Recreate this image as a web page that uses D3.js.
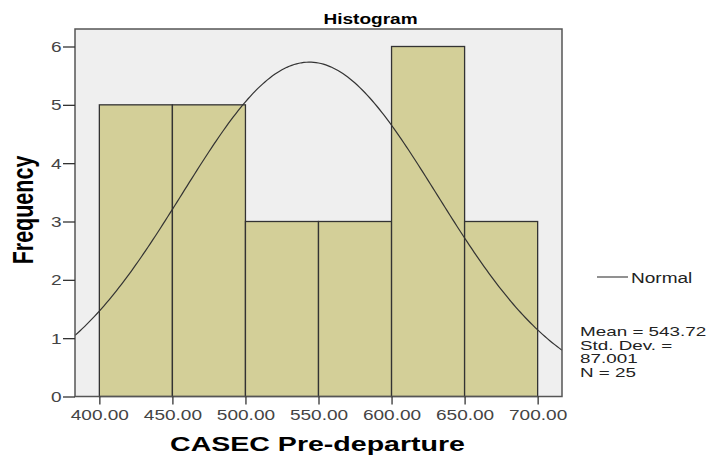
<!DOCTYPE html>
<html>
<head>
<meta charset="utf-8">
<script src="https://cdn.jsdelivr.net/npm/d3@7"></script>
<style>
  body { margin: 0; background: #fff; }
  text { font-family: "Liberation Sans", Arial, sans-serif; }
</style>
</head>
<body>
<svg id="chart" width="710" height="459"></svg>
<script>
// histogram bins (lower edge) and counts
const binStarts = [400, 450, 500, 550, 600, 650];
const binWidth = 50;
const counts = [5, 5, 3, 3, 6, 3];
const xTicks = [400, 450, 500, 550, 600, 650, 700];
const yTicks = [0, 1, 2, 3, 4, 5, 6];
// stats shown in the legend, the normal curve comes from them
const mean = 543.72, stdDev = 87.001, n = 25;
const statLines = ["Mean = 543.72", "Std. Dev. =", "87.001", "N = 25"];

// the original picture is stretched sideways, so text gets widened too
var stretch = 1.36;

var svg = d3.select("#chart");
var plot = {left: 75, right: 562, top: 29, bottom: 396.5};

var x = d3.scaleLinear().domain([383.33, 716.67]).range([plot.left, plot.right]);
var y = d3.scaleLinear().domain([0, 6.3]).range([plot.bottom, plot.top]);

function addText(px, py, str, size, bold, anchor, rot, sx) {
  return svg.append("text")
      .attr("transform", "translate(" + px + "," + py + ")scale(" + (sx || stretch) + ",1)" + (rot ? "rotate(" + rot + ")" : ""))
      .attr("text-anchor", anchor || "start")
      .attr("fill", bold ? "#000" : "#222")
      .style("font-size", size + "px")
      .style("font-weight", bold ? "bold" : "normal")
      .text(str);
}

svg.append("rect")
    .attr("x", plot.left).attr("y", plot.top)
    .attr("width", plot.right - plot.left).attr("height", plot.bottom - plot.top)
    .attr("fill", "#efefef");

svg.selectAll(".bar")
  .data(binStarts)
  .enter().append("rect")
    .attr("class", "bar")
    .attr("x", function(d) { return x(d); })
    .attr("y", function(d, i) { return y(counts[i]); })
    .attr("width", x(binStarts[0] + binWidth) - x(binStarts[0]))
    .attr("height", function(d, i) { return y(0) - y(counts[i]); })
    .attr("fill", "#d3cf98")
    .attr("stroke", "#333")
    .attr("stroke-width", 1.3);

// normal curve scaled to counts
var curveXs = d3.range(0, 201).map(function(i) { return x.domain()[0] + (x.domain()[1] - x.domain()[0]) * i / 200; });
var line = d3.line()
    .x(function(d) { return x(d); })
    .y(function(d) {
      var z = (d - mean) / stdDev;
      return y(n * binWidth / (stdDev * Math.sqrt(2 * Math.PI)) * Math.exp(-0.5 * z * z));
    });
svg.append("path")
    .datum(curveXs)
    .attr("d", line)
    .attr("fill", "none")
    .attr("stroke", "#333")
    .attr("stroke-width", 1.2);

// frame
svg.append("rect")
    .attr("x", plot.left).attr("y", plot.top)
    .attr("width", plot.right - plot.left).attr("height", plot.bottom - plot.top)
    .attr("fill", "none")
    .attr("stroke", "#555")
    .attr("stroke-width", 1.5);

var xAxis = svg.append("g")
    .attr("transform", "translate(0," + plot.bottom + ")")
    .call(d3.axisBottom(x).tickValues(xTicks).tickFormat(d3.format(".2f")).tickSize(8));
var yAxis = svg.append("g")
    .attr("transform", "translate(" + plot.left + ",0)")
    .call(d3.axisLeft(y).tickValues(yTicks).tickFormat(d3.format("d")).tickSize(12));
[xAxis, yAxis].forEach(function(g) {
  g.select(".domain").remove();
  g.selectAll(".tick line").attr("stroke", "#333").attr("stroke-width", 1.3);
  g.selectAll(".tick text")
    .attr("fill", "#444")
    .style("font-family", "'Liberation Sans', Arial, sans-serif")
    .style("font-size", "14px");
});
xAxis.selectAll(".tick text")
    .attr("y", 0).attr("dy", 0)
    .attr("transform", "translate(0,23.5)scale(" + stretch + ",1)");
yAxis.selectAll(".tick text")
    .attr("x", 0).attr("dy", 0)
    .attr("transform", "translate(-13.5,5)scale(" + stretch + ",1)");

addText(370.5, 24, "Histogram", 14, true, "middle");
addText(33, 210, "Frequency", 21.5, true, "middle", -90);
addText(317.5, 451, "CASEC Pre-departure", 21, true, "middle");

// legend
svg.append("line")
    .attr("x1", 597).attr("x2", 628).attr("y1", 277).attr("y2", 277)
    .attr("stroke", "#555").attr("stroke-width", 1.3);
addText(631, 282.5, "Normal", 14, false);

statLines.forEach(function(s, i) {
  addText(580, 336 + i * 13.5, s, 13, false, "start", 0, 1.45);
});
</script>
</body>
</html>
